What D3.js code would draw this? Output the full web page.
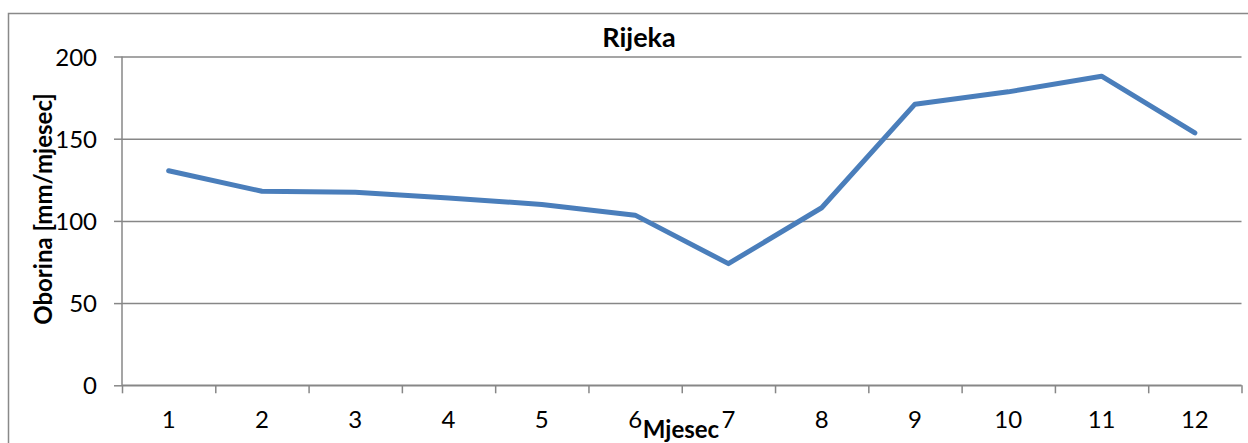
<!DOCTYPE html>
<html>
<head>
<meta charset="utf-8">
<script src="https://cdn.jsdelivr.net/npm/d3@7"></script>
<style>
  body { margin: 0; background: #fff; }
  text { font-family: Lato, "Open Sans", sans-serif; fill: #000; }
</style>
</head>
<body>
<div id="chart"></div>
<script>
// chart data
var months = ["1", "2", "3", "4", "5", "6", "7", "8", "9", "10", "11", "12"];
var rainfall = [130.5, 118, 117.5, 114, 110, 103.5, 74, 108, 171, 178.5, 188, 153.5];
var yTicks = [0, 50, 100, 150, 200];
var title = "Rijeka";
var xTitle = "Mjesec";
var yTitle = "Oborina [mm/mjesec]";

var svgWidth = 1248;
var svgHeight = 443;

// plot area
var margin = { top: 56.5, right: 6.5, bottom: 57.7, left: 122 };
var chartWidth = svgWidth - margin.left - margin.right;
var chartHeight = svgHeight - margin.top - margin.bottom;

var svg = d3.select("#chart")
  .append("svg")
  .attr("width", svgWidth)
  .attr("height", svgHeight);

// outer chart frame (cut off at right/bottom like the screenshot)
svg.append("rect")
  .attr("x", 8.5)
  .attr("y", 13.5)
  .attr("width", 1300)
  .attr("height", 600)
  .attr("fill", "none")
  .attr("stroke", "#898989")
  .attr("stroke-width", 1.5);

var chartGroup = svg.append("g")
  .attr("transform", `translate(${margin.left}, ${margin.top})`);

var x = d3.scaleBand()
  .domain(months)
  .range([0, chartWidth])
  .padding(0);

var xEdge = d3.scaleLinear()
  .domain([0, months.length])
  .range([0, chartWidth]);

var y = d3.scaleLinear()
  .domain([0, 200])
  .range([chartHeight, 0]);

// horizontal gridlines
var grid = chartGroup.append("g")
  .call(d3.axisLeft(y).tickValues(yTicks).tickSize(-chartWidth).tickFormat(""));
grid.select(".domain").remove();
grid.selectAll("line").attr("stroke", "#878787").attr("stroke-width", 1.5);

// y axis
var yAxis = chartGroup.append("g")
  .call(d3.axisLeft(y).tickValues(yTicks).tickSize(8).tickPadding(17));
yAxis.select(".domain").attr("stroke", "#878787").attr("stroke-width", 1.5)
  .attr("d", `M0,${chartHeight + 0.5}V0`);
yAxis.selectAll("line").attr("stroke", "#878787").attr("stroke-width", 1.5);
yAxis.selectAll("text").attr("font-size", "24px").attr("dy", "0.36em");

// x axis: tick marks at category edges
var xTicksG = chartGroup.append("g")
  .attr("transform", `translate(0, ${chartHeight})`)
  .call(d3.axisBottom(xEdge).tickValues(d3.range(months.length + 1)).tickSize(8).tickFormat(""));
xTicksG.select(".domain").attr("stroke", "#878787").attr("stroke-width", 1.5)
  .attr("d", `M0,0H${chartWidth}`);
xTicksG.selectAll("line").attr("stroke", "#878787").attr("stroke-width", 1.5);

// x axis labels at category centers
var xAxis = chartGroup.append("g")
  .attr("transform", `translate(0, ${chartHeight})`)
  .call(d3.axisBottom(x).tickSize(0).tickPadding(26));
xAxis.select(".domain").remove();
xAxis.selectAll("text").attr("font-size", "24px");

// data line
var line = d3.line()
  .x(function(d, i) { return x(months[i]) + x.bandwidth() / 2; })
  .y(function(d) { return y(d); });

chartGroup.append("path")
  .datum(rainfall)
  .attr("d", line)
  .attr("fill", "none")
  .attr("stroke", "#4a7ebb")
  .attr("stroke-width", 5)
  .attr("stroke-linejoin", "round")
  .attr("stroke-linecap", "round");

// titles
svg.append("text")
  .attr("x", 639)
  .attr("y", 47)
  .attr("text-anchor", "middle")
  .attr("font-size", "27px")
  .attr("font-weight", "bold")
  .text(title);

svg.append("text")
  .attr("x", 681)
  .attr("y", 438)
  .attr("text-anchor", "middle")
  .attr("font-size", "24px")
  .attr("font-weight", "bold")
  .text(xTitle);

svg.append("text")
  .attr("transform", "translate(52, 209) rotate(-90)")
  .attr("text-anchor", "middle")
  .attr("font-size", "24px")
  .attr("font-weight", "bold")
  .text(yTitle);
</script>
</body>
</html>
